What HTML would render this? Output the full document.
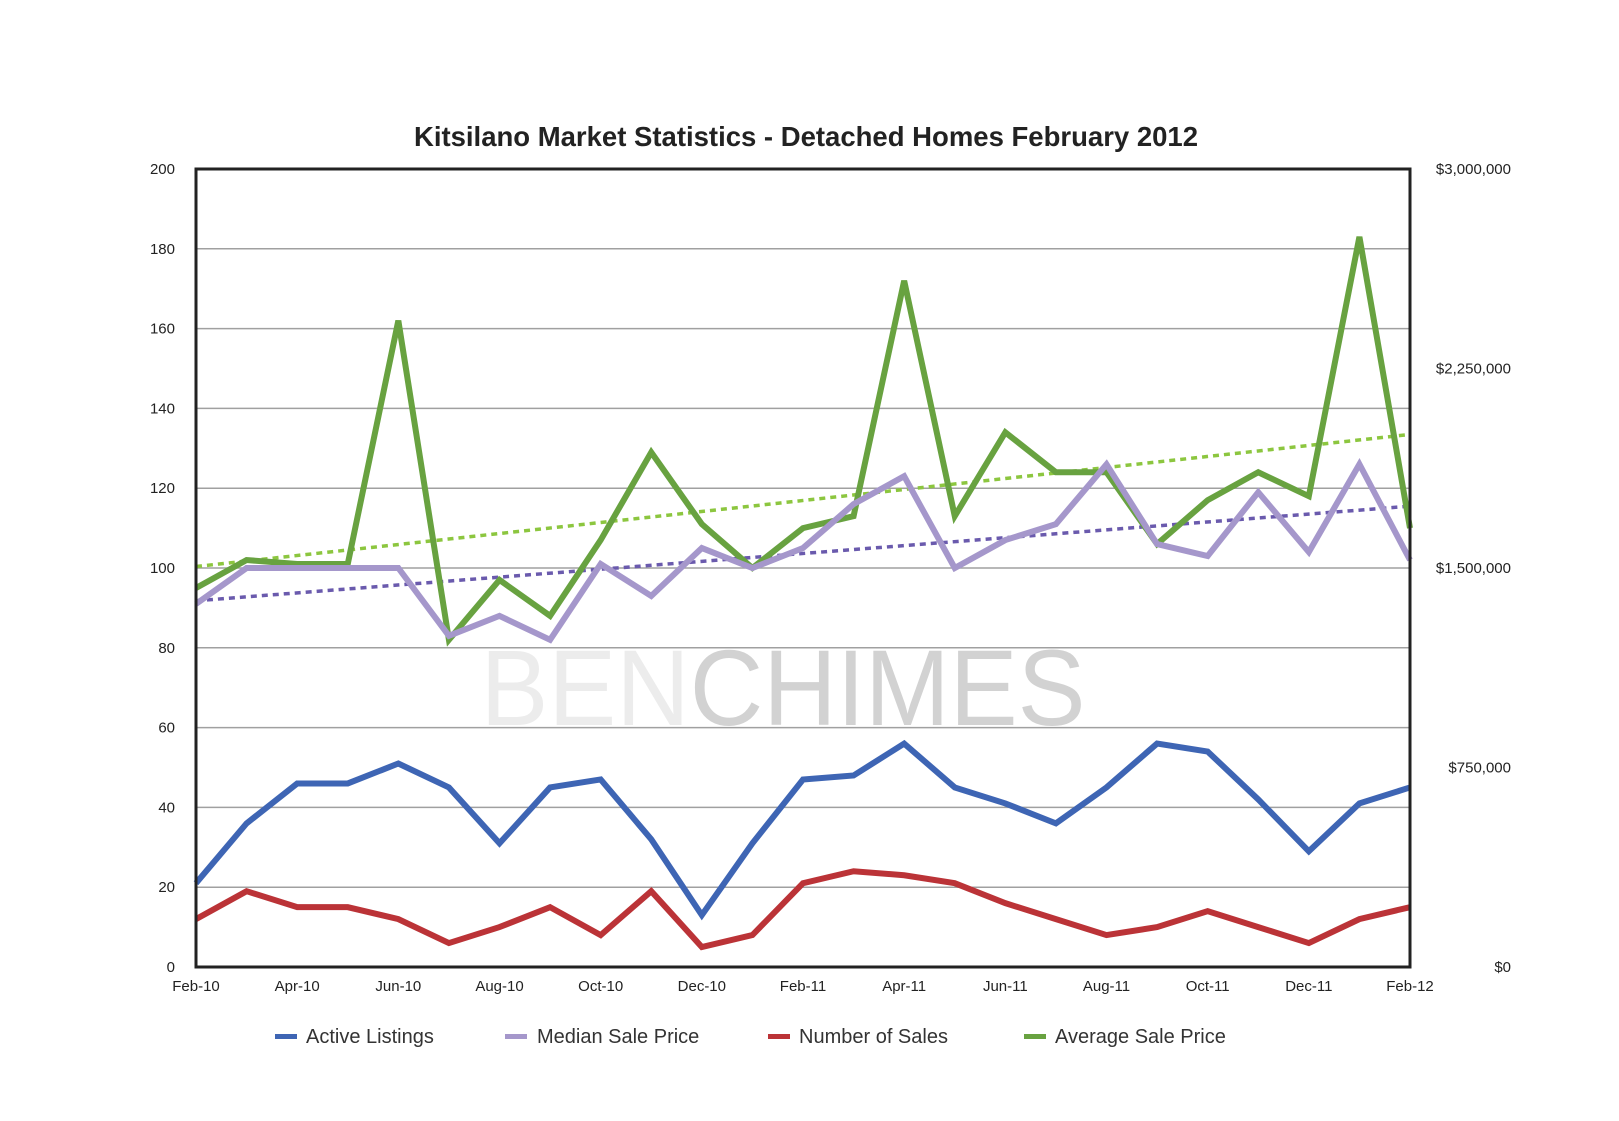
<!DOCTYPE html>
<html><head><meta charset="utf-8"><style>
body{margin:0;background:#fff;}
svg{display:block;font-family:"Liberation Sans",Arial,sans-serif;}
</style></head><body>
<svg id="chart" width="1619" height="1121">
<text x="806" y="146" text-anchor="middle" font-size="27.5" font-weight="bold" fill="#222">Kitsilano Market Statistics - Detached Homes February 2012</text>
<text x="783" y="725" text-anchor="middle" font-size="108" textLength="605" lengthAdjust="spacingAndGlyphs"><tspan fill="#ececec">BEN</tspan><tspan fill="#d2d2d2">CHIMES</tspan></text>
<g id="grid"></g><g id="trends"></g><g id="series"></g>
<rect x="196" y="169" width="1214" height="798" fill="none" stroke="#222" stroke-width="3"/>
<g id="axes" font-size="15" fill="#222"></g>
<g id="legend" font-size="20" fill="#333"></g>
</svg>
<script>
const months=["Feb-10","Mar-10","Apr-10","May-10","Jun-10","Jul-10","Aug-10","Sep-10","Oct-10","Nov-10","Dec-10","Jan-11","Feb-11","Mar-11","Apr-11","May-11","Jun-11","Jul-11","Aug-11","Sep-11","Oct-11","Nov-11","Dec-11","Jan-12","Feb-12"];
const activeListings=[21,36,46,46,51,45,31,45,47,32,13,31,47,48,56,45,41,36,45,56,54,42,29,41,45];
const numberOfSales=[12,19,15,15,12,6,10,15,8,19,5,8,21,24,23,21,16,12,8,10,14,10,6,12,15];
const medianPrice=[1365000,1500000,1500000,1500000,1500000,1245000,1320000,1230000,1515000,1395000,1575000,1500000,1575000,1740000,1845000,1500000,1605000,1665000,1890000,1590000,1545000,1785000,1560000,1890000,1530000];
const averagePrice=[1425000,1530000,1515000,1515000,2430000,1230000,1455000,1320000,1605000,1935000,1665000,1500000,1650000,1695000,2580000,1695000,2010000,1860000,1860000,1590000,1755000,1860000,1770000,2745000,1650000];
const leftTicks=[0,20,40,60,80,100,120,140,160,180,200];
const rightTicks=["$0","$750,000","$1,500,000","$2,250,000","$3,000,000"];
const rightTickValues=[0,750000,1500000,2250000,3000000];
const xLabelIdx=[0,2,4,6,8,10,12,14,16,18,20,22,24];

const NS="http://www.w3.org/2000/svg";
const L=196,R=1410,T=169,B=967;
const x=i=>L+i*(R-L)/(months.length-1);
const yL=v=>B-v/200*(B-T);
const yR=v=>B-v/3000000*(B-T);
function mk(tag,attrs,parent){const e=document.createElementNS(NS,tag);for(const k in attrs)e.setAttribute(k,attrs[k]);parent.appendChild(e);return e;}
const grid=document.getElementById('grid'),axes=document.getElementById('axes'),series=document.getElementById('series'),trends=document.getElementById('trends'),legend=document.getElementById('legend');
leftTicks.forEach(v=>{
  if(v>0&&v<200){const g=mk('line',{x1:L,x2:R,y1:yL(v),y2:yL(v),stroke:'#a0a0a0','stroke-width':1.5},grid);
  
  }
  const t=mk('text',{x:175,y:yL(v)+5,'text-anchor':'end'},axes);t.textContent=v;
  
  
});
rightTickValues.forEach((v,i)=>{
  const t=mk('text',{x:1511,y:yR(v)+5,'text-anchor':'end'},axes);t.textContent=rightTicks[i];
  
  
});
xLabelIdx.forEach(i=>{
  const t=mk('text',{x:x(i),y:991,'text-anchor':'middle'},axes);t.textContent=months[i];
  
  
});
function line(vals,yf,color,name){
  const p=mk('polyline',{points:vals.map((v,i)=>x(i)+','+yf(v)).join(' '),fill:'none',stroke:color,'stroke-width':6,'stroke-linejoin':'miter'},series);
  
  
}
function trend(vals,color,name){
  const n=vals.length;let sx=0,sy=0,sxy=0,sxx=0;
  vals.forEach((v,i)=>{sx+=i;sy+=v;sxy+=i*v;sxx+=i*i;});
  const b=(n*sxy-sx*sy)/(n*sxx-sx*sx),a=(sy-b*sx)/n;
  const p=mk('line',{x1:x(0),y1:yR(a),x2:x(n-1),y2:yR(a+b*(n-1)),stroke:color,'stroke-width':3.5,'stroke-dasharray':'6,5'},trends);
  
  
}
trend(averagePrice,'#8cc63f','average-price-trendline');
trend(medianPrice,'#6a5aad','median-price-trendline');
line(averagePrice,yR,'#68a240','average-sale-price-line');
line(medianPrice,yR,'#a597cb','median-sale-price-line');
line(activeListings,yL,'#3e65b4','active-listings-line');
line(numberOfSales,yL,'#bb3337','number-of-sales-line');
const leg=[["Active Listings","#3e65b4",275,306],["Median Sale Price","#a597cb",505,537],["Number of Sales","#bb3337",768,799],["Average Sale Price","#68a240",1024,1055]];
leg.forEach(l=>{
  const r=mk('rect',{x:l[2],y:1034,width:22,height:5,fill:l[1]},legend);
  
  
  const t=mk('text',{x:l[3],y:1043},legend);t.textContent=l[0];
  
  
});
</script>
</body></html>
